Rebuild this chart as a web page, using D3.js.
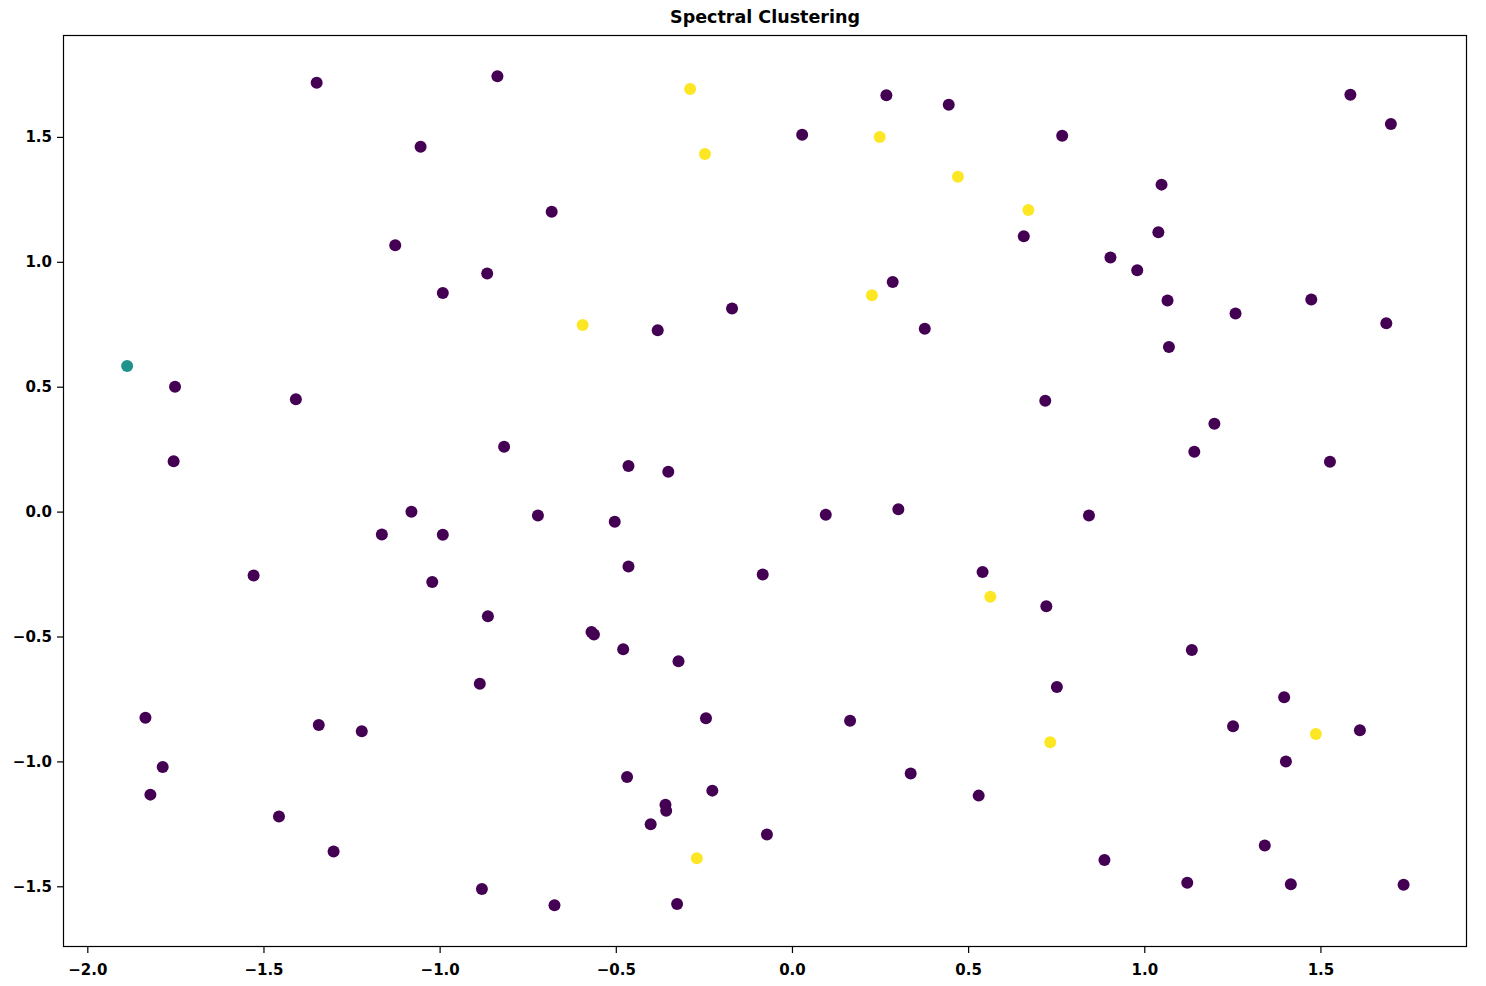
<!DOCTYPE html>
<html>
<head>
<meta charset="utf-8">
<script src="https://cdn.jsdelivr.net/npm/d3@7"></script>
<style>
  html, body { margin: 0; padding: 0; background: #fff; }
  svg { display: block; }
  text { font-family: "DejaVu Sans", sans-serif; fill: #000; }
</style>
</head>
<body>
<svg id="chart" width="1486" height="986"></svg>
<script>
// Cluster 0 (purple)
const cluster0X = [-1.349,-0.836,-1.054,-1.126,-0.865,-0.991,-1.751,-1.408,-0.817,-1.755,
  0.268,0.445,0.029,-0.682,0.286,-0.170,-0.381,0.377,-0.464,-0.351,
  1.585,1.700,0.767,1.049,0.658,1.040,0.904,0.980,1.066,1.259,
  1.474,1.687,1.070,0.719,1.199,1.142,1.527,-1.080,-1.164,-0.991,
  -1.528,-1.021,-0.863,-0.886,-1.835,-1.343,-1.221,-1.786,-1.821,-1.456,
  -1.301,-0.880,-0.721,-0.503,0.096,0.302,-0.464,-0.083,0.541,-0.569,
  -0.562,-0.479,-0.322,-0.244,0.165,-0.468,-0.226,-0.359,-0.357,-0.401,
  -0.071,0.337,0.530,-0.674,-0.326,0.843,0.722,1.135,0.752,1.397,
  1.252,1.612,1.402,1.342,0.887,1.122,1.416,1.736];
const cluster0Y = [1.717,1.743,1.461,1.066,0.953,0.875,0.500,0.450,0.260,0.202,
  1.667,1.629,1.509,1.200,0.919,0.813,0.726,0.732,0.183,0.160,
  1.669,1.552,1.505,1.309,1.102,1.118,1.017,0.966,0.845,0.793,
  0.849,0.754,0.659,0.444,0.352,0.240,0.200,-0.001,-0.092,-0.093,
  -0.256,-0.282,-0.419,-0.689,-0.825,-0.854,-0.879,-1.022,-1.133,-1.221,
  -1.361,-1.511,-0.016,-0.041,-0.013,0.009,-0.220,-0.252,-0.242,-0.482,
  -0.492,-0.551,-0.599,-0.827,-0.837,-1.062,-1.117,-1.174,-1.198,-1.252,
  -1.293,-1.048,-1.137,-1.576,-1.571,-0.016,-0.379,-0.554,-0.702,-0.743,
  -0.859,-0.875,-1.000,-1.337,-1.395,-1.486,-1.492,-1.494];
// Cluster 1 (teal)
const cluster1X = [-1.887];
const cluster1Y = [0.583];
// Cluster 2 (yellow)
const cluster2X = [-0.289,-0.247,0.249,0.471,0.671,-0.594,0.227,0.563,0.733,1.487,-0.270];
const cluster2Y = [1.692,1.432,1.500,1.341,1.207,0.747,0.866,-0.341,-0.923,-0.890,-1.388];

const clusterColors = ["#440154", "#21918c", "#fde725"];
const xTicks = [-2.0,-1.5,-1.0,-0.5,0.0,0.5,1.0,1.5];
const yTicks = [-1.5,-1.0,-0.5,0.0,0.5,1.0,1.5];
const titleText = "Spectral Clustering";

const margin = {left: 63, top: 35, right: 1486 - 1467, bottom: 986 - 947};
const W = 1486, H = 986;
const svg = d3.select("#chart");

const x = d3.scaleLinear().domain([-2.069, 1.916]).range([margin.left, W - margin.right]);
const y = d3.scaleLinear().domain([-1.743, 1.908]).range([H - margin.bottom, margin.top]);

const points = [];
[[cluster0X, cluster0Y], [cluster1X, cluster1Y], [cluster2X, cluster2Y]].forEach(([xs, ys], c) => {
  xs.forEach((v, i) => points.push({x: v, y: ys[i], c}));
});
svg.append("g").selectAll("circle").data(points).join("circle")
  .attr("cx", d => x(d.x)).attr("cy", d => y(d.y)).attr("r", 6)
  .attr("fill", d => clusterColors[d.c]);

const fmt = d3.format(".1f");
const xAxis = svg.append("g").attr("transform", `translate(0,${H - margin.bottom})`)
  .call(d3.axisBottom(x).tickValues(xTicks).tickFormat(fmt).tickSize(6).tickPadding(11));
const yAxis = svg.append("g").attr("transform", `translate(${margin.left},0)`)
  .call(d3.axisLeft(y).tickValues(yTicks).tickFormat(fmt).tickSize(6).tickPadding(5));
[xAxis, yAxis].forEach(g => {
  g.select(".domain").remove();
  g.selectAll(".tick line").attr("stroke", "#000").attr("stroke-width", 1.2);
  g.selectAll("text").style("font-family", "DejaVu Sans").style("font-size", "15px")
    .style("font-weight", "bold").attr("fill", "#000");
});

// frame
svg.append("rect").attr("x", margin.left + 0.5).attr("y", margin.top + 0.5)
  .attr("width", W - margin.right - margin.left - 1).attr("height", H - margin.bottom - margin.top - 1)
  .attr("fill", "none").attr("stroke", "#000").attr("stroke-width", 1.2);

svg.append("text").attr("x", (margin.left + W - margin.right) / 2).attr("y", 23)
  .attr("text-anchor", "middle").style("font-size", "17.5px").style("font-weight", "bold").text(titleText);
</script>
</body>
</html>
